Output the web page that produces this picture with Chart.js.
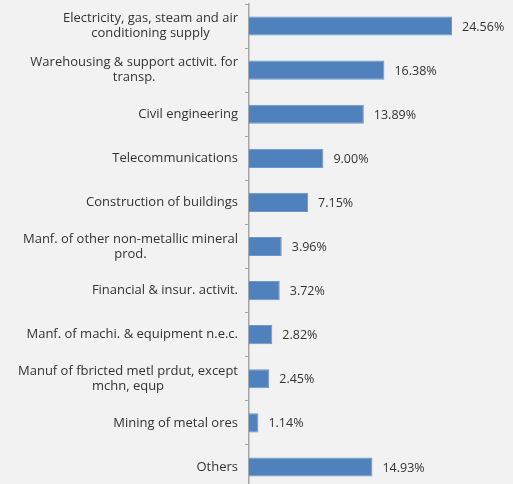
<!DOCTYPE html>
<html>
<head>
<meta charset="utf-8">
<script src="https://cdn.jsdelivr.net/npm/chart.js@4/dist/chart.umd.min.js"></script>
<style>
  html, body { margin: 0; padding: 0; background: #F2F2F2; overflow: hidden; }
  #wrap { width: 513px; height: 492px; }
</style>
</head>
<body>
<div id="wrap"><canvas id="c" width="513" height="492"></canvas></div>
<script>
// Sector labels (multi-line where the label wraps)
const sectors = [
  ["Electricity, gas, steam and air", "conditioning supply"],
  ["Warehousing & support activit. for", "transp."],
  "Civil engineering",
  "Telecommunications",
  "Construction of buildings",
  ["Manf. of other non-metallic mineral", "prod."],
  "Financial & insur. activit.",
  "Manf. of machi. & equipment n.e.c.",
  ["Manuf of fbricted metl prdut, except", "mchn, equp"],
  "Mining of metal ores",
  "Others"
];
// Share of total, in percent
const shares = [24.56, 16.38, 13.89, 9.00, 7.15, 3.96, 3.72, 2.82, 2.45, 1.14, 14.93];

const FONT = "'Open Sans', 'DejaVu Sans', sans-serif";
const TEXT = '#333333';

// Writes each bar's percentage just past its end
const valueLabels = {
  id: 'valueLabels',
  afterDatasetsDraw(chart) {
    const ctx = chart.ctx;
    const meta = chart.getDatasetMeta(0);
    ctx.save();
    ctx.font = "12.5px " + FONT;
    ctx.fillStyle = TEXT;
    ctx.textAlign = 'left';
    ctx.textBaseline = 'middle';
    meta.data.forEach((bar, i) => {
      ctx.fillText(shares[i].toFixed(2) + '%', bar.x + 10, bar.y + 1);
    });
    ctx.restore();
  }
};

// Category labels: right-aligned block, wrapped lines centred within the block
const categoryLabels = {
  id: 'categoryLabels',
  afterDraw(chart) {
    const ctx = chart.ctx;
    const y = chart.scales.y;
    const right = y.right - 11;
    const lineH = 15;
    ctx.save();
    ctx.font = "13px " + FONT;
    ctx.fillStyle = TEXT;
    ctx.textAlign = 'center';
    ctx.textBaseline = 'middle';
    sectors.forEach((lab, i) => {
      const lines = Array.isArray(lab) ? lab : [lab];
      const w = Math.max(...lines.map(l => ctx.measureText(l).width));
      const cx = right - w / 2;
      const cy = y.getPixelForValue(i);
      const y0 = cy - (lines.length - 1) * lineH / 2;
      lines.forEach((l, k) => ctx.fillText(l, cx, y0 + k * lineH));
    });
    ctx.restore();
  }
};

new Chart(document.getElementById('c'), {
  type: 'bar',
  data: {
    labels: sectors,
    datasets: [{
      data: shares,
      backgroundColor: '#4F81BD',
      borderColor: '#6C96CB',
      borderWidth: 1,
      barPercentage: 0.62,
      categoryPercentage: 0.7
    }]
  },
  options: {
    indexAxis: 'y',
    responsive: false,
    animation: false,
    layout: { padding: { top: 4, bottom: 3, right: 16, left: 0 } },
    plugins: { legend: { display: false }, tooltip: { enabled: false } },
    scales: {
      x: {
        display: false,
        min: 0,
        max: 30
      },
      y: {
        afterFit(scale) { scale.width = 249; },
        grid: {
          offset: true,
          drawOnChartArea: false,
          drawTicks: true,
          tickLength: 4,
          tickColor: '#A6A6A6'
        },
        border: { color: '#A6A6A6', width: 1.5 },
        ticks: { display: false }
      }
    }
  },
  plugins: [valueLabels, categoryLabels]
});
</script>
</body>
</html>
